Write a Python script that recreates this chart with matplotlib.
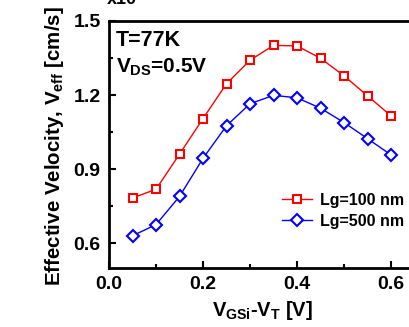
import numpy as np
import matplotlib
matplotlib.use('Agg')
import matplotlib.pyplot as plt
from matplotlib.ticker import MultipleLocator

# Datos
vg = [0.05, 0.10, 0.15, 0.20, 0.25, 0.30, 0.35, 0.40, 0.45, 0.50, 0.55, 0.60]
v_100 = [0.784, 0.819, 0.961, 1.105, 1.246, 1.341, 1.401, 1.399, 1.349, 1.278, 1.197, 1.116]
v_500 = [0.631, 0.676, 0.790, 0.944, 1.076, 1.165, 1.199, 1.189, 1.147, 1.089, 1.024, 0.958]
etiquetas = ['Lg=100 nm', 'Lg=500 nm']
xticks = [0.0, 0.2, 0.4, 0.6]
yticks = [0.6, 0.9, 1.2, 1.5]

plt.rcParams['font.family'] = ['Liberation Sans', 'DejaVu Sans']
plt.rcParams['font.weight'] = 'bold'
plt.rcParams['mathtext.fontset'] = 'custom'
plt.rcParams['mathtext.rm'] = 'Liberation Sans:bold'
plt.rcParams['mathtext.it'] = 'Liberation Sans:bold'
plt.rcParams['mathtext.bf'] = 'Liberation Sans:bold'

W, H = 409, 327
fig = plt.figure(figsize=(W / 100, H / 100), dpi=100)
ax = fig.add_axes([0.2665, 0.180, 0.747, 0.756])

ax.plot(vg, v_100, color='red', lw=1.0, marker='s', ms=5.2, mfc='white',
        mec='red', mew=1.5, label=etiquetas[0])
ax.plot(vg, v_500, color='blue', lw=1.0, marker='D', ms=5.8, mfc='white',
        mec='blue', mew=1.5, label=etiquetas[1])

ax.set_xlim(0, 0.65)
ax.set_ylim(0.5, 1.5)
ax.xaxis.set_minor_locator(MultipleLocator(0.1))
ax.yaxis.set_minor_locator(MultipleLocator(0.15))
ax.set_xticks(xticks)
ax.set_yticks(yticks)
ax.set_xticklabels(['%.1f' % t for t in xticks])
ax.set_yticklabels(['%.1f' % t for t in yticks])

ax.tick_params(which='both', direction='in', width=1.5, labelsize=14, pad=6)
ax.tick_params(which='major', length=5)
ax.tick_params(which='minor', length=3)
for s in ax.spines.values():
    s.set_linewidth(2)

# Rótulos de ejes (colocados a mano para igualar el recorte original)
fig.text(262 / W, 1 - 316 / H, '$V_{GSi}$-$V_T$ [V]', fontsize=14.5,
         fontweight='bold', ha='center', va='baseline')
fig.text(55 / W, 1 - 286 / H, 'Effective Velocity, $V_{eff}$ [cm/s]',
         fontsize=14.8, fontweight='bold', rotation=90, ha='center',
         va='bottom')

fig.text(0.262, 1.0, 'x10', fontsize=13, fontweight='bold', va='center')

fig.text(116 / W, 1 - 46 / H, 'T=77K', fontsize=15.5, fontweight='bold',
         va='baseline')
fig.text(116 / W, 1 - 73 / H, '$V_{DS}$=0.5V', fontsize=15,
         fontweight='bold', va='baseline')

ax.legend(loc='upper left', bbox_to_anchor=(282 / W, 1 - 193 / H),
          bbox_transform=fig.transFigure, frameon=False, borderpad=0,
          borderaxespad=0, handlelength=1.9, handletextpad=0.5,
          labelspacing=0.35, prop={'weight': 'bold', 'size': 11.5})

fig.savefig('out.png', dpi=100)
